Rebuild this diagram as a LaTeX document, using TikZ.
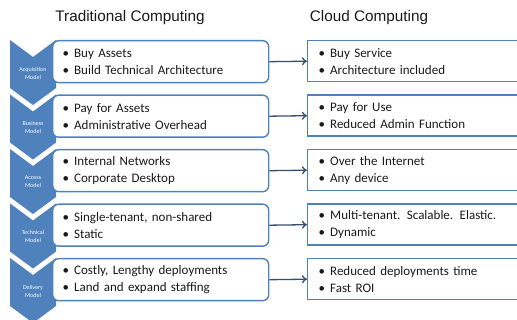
\documentclass[tikz,border=0pt]{standalone}
\usepackage{fontspec}
\setmainfont{Carlito}
\newfontfamily\titlefont{Liberation Sans}
\usetikzlibrary{arrows.meta}
\definecolor{chev}{HTML}{4F81BD}
\definecolor{boxline}{HTML}{4F81BD}
\definecolor{arr}{HTML}{3A4F6E}
\definecolor{txt}{HTML}{1A1A1A}
\begin{document}
\begin{tikzpicture}[x=1pt,y=-1pt,
  leftbox/.style={draw=boxline, line width=1.4pt, rounded corners=6pt, fill=white,
    minimum width=216pt, minimum height=42pt, text width=196pt, inner xsep=10pt, inner ysep=0pt,
    align=left, text=txt, font=\fontsize{13}{17}\selectfont, anchor=north west},
  rightbox/.style={draw=boxline, line width=1.4pt, fill=white,
    minimum width=225pt, minimum height=41pt, text width=203pt, inner xsep=11pt, inner ysep=0pt,
    align=left, text=txt, font=\fontsize{13}{17}\selectfont, anchor=north west},
  chevlabel/.style={text=white, font=\fontsize{6}{8}\selectfont, align=center, inner sep=0pt},
  conn/.style={draw=arr, line width=1.3pt, -{To[length=5pt,width=8pt]}},
  title/.style={font=\titlefont\fontsize{15.3}{18}\selectfont, text=txt, inner sep=0pt}]
\useasboundingbox (0,0) rectangle (517,320);
\node[title] (tl) at (130,18) {Traditional Computing};
\node[title] (tr) at (369,18) {Cloud Computing};
\newcommand\bl{\textbullet\hspace{5pt}}
\foreach \i/\lab/\la/\lb/\ra/\rb in {
  0/{Acquisition\\Model}/{Buy Assets}/{Build Technical Architecture}/{Buy Service}/{Architecture included},
  1/{Business\\Model}/{Pay for Assets}/{Administrative Overhead}/{Pay for Use}/{Reduced Admin Function},
  2/{Access\\Model}/{Internal Networks}/{Corporate Desktop}/{Over the Internet}/{Any device},
  3/{Technical\\Model}/{Single-tenant, non-shared}/{Static}/{Multi-tenant. Scalable. Elastic.}/{Dynamic},
  4/{Delivery\\Model}/{Costly, Lengthy deployments}/{Land and expand staffing}/{Reduced deployments time}/{Fast ROI}}{
  \pgfmathsetmacro\t{40+54.5*\i}
  \fill[chev] (10,\t) -- (33,{\t+17}) -- (56,\t) -- (56,{\t+48}) -- (33,{\t+65}) -- (10,{\t+48}) -- cycle;
  \node[chevlabel] (C\i) at (33,{\t+33}) {\lab};
  \node[leftbox] (L\i) at (52,\t) {\bl\la\\\bl\lb};
  \node[rightbox] (R\i) at (307,\t) {\bl\ra\\\bl\rb};
  \draw[conn] (L\i.east) -- (R\i.west);
}
\end{tikzpicture}
\end{document}
